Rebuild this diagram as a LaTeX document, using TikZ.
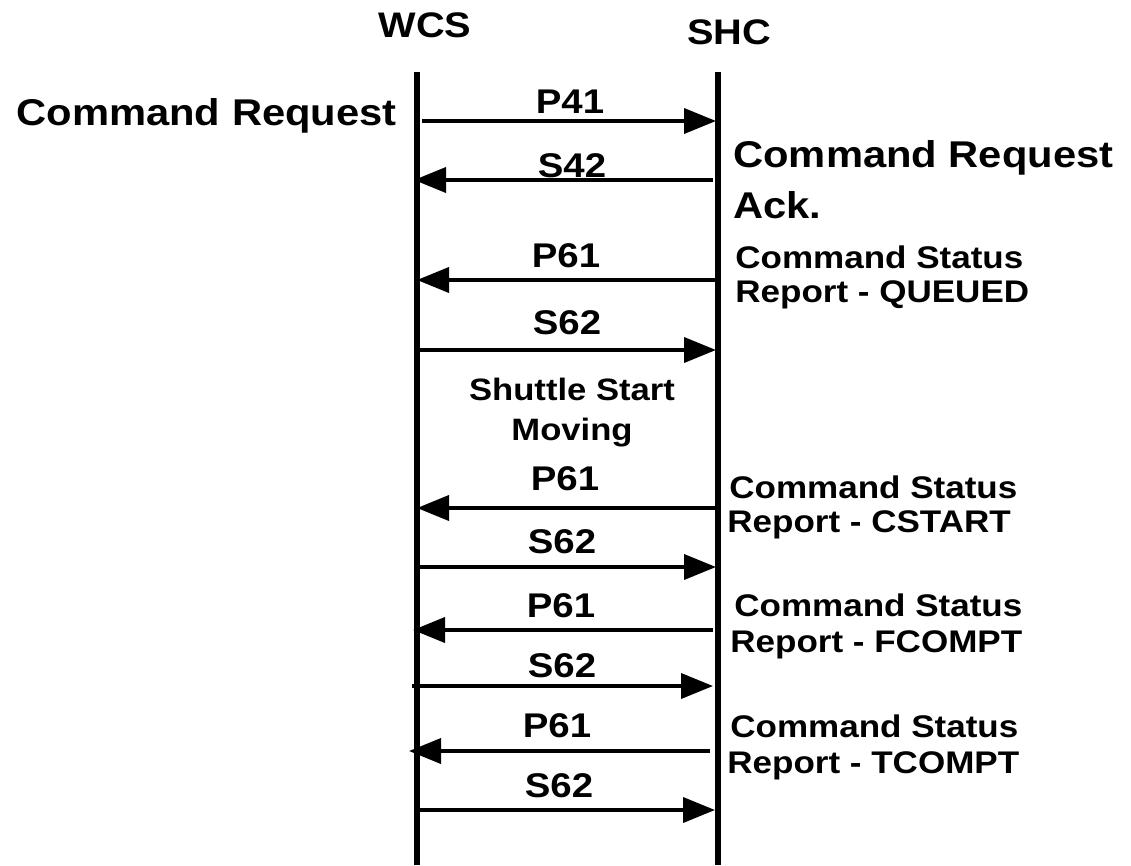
\documentclass[tikz,border=0pt]{standalone}
\usepackage{fontspec}
\setmainfont{Liberation Sans}[FakeStretch=1.12]
\usetikzlibrary{arrows.meta}
\begin{document}
\begin{tikzpicture}[x=0.02cm,y=-0.02cm,
  lifeline/.style={line width=0.12cm},
  msg/.style={line width=0.075cm,-{Triangle[length=0.64cm,width=0.5cm]}},
  hdr/.style={font=\bfseries\fontsize{20.2}{24}\selectfont, inner sep=0pt, anchor=base},
  lbl/.style={font=\bfseries\fontsize{19.5}{23}\selectfont, inner sep=0pt, anchor=base},
  big/.style={font=\bfseries\fontsize{21.2}{25}\selectfont, inner sep=0pt, anchor=base west},
  note/.style={font=\bfseries\fontsize{17.8}{20}\selectfont, inner sep=0pt, anchor=base west},
  mid/.style={font=\bfseries\fontsize{17.6}{20}\selectfont, inner sep=0pt, anchor=base},
]
\useasboundingbox (0,0) rectangle (1131,865);

% headers
\node[hdr] (wcs) at (425,38) {WCS};
\node[hdr] (shc) at (729,45) {SHC};

% lifelines
\coordinate (wtop) at (416.5,72);
\coordinate (wbot) at (416.5,865);
\coordinate (stop) at (717.5,72);
\coordinate (sbot) at (717.5,865);
\draw[lifeline] (wtop) -- (wbot);
\draw[lifeline] (stop) -- (sbot);

% left label
\node[big, anchor=base east] (cmdreq) at (397,125) {Command Request};

% message end points
\coordinate (a1) at (422,121);  \coordinate (b1) at (716,121);
\coordinate (a2) at (414,180);  \coordinate (b2) at (713,180);
\coordinate (a3) at (417,280);  \coordinate (b3) at (716,280);
\coordinate (a4) at (415,350);  \coordinate (b4) at (716,350);
\coordinate (a5) at (417,508);  \coordinate (b5) at (716,508);
\coordinate (a6) at (415,567);  \coordinate (b6) at (716,567);
\coordinate (a7) at (413,630);  \coordinate (b7) at (713,630);
\coordinate (a8) at (412,686);  \coordinate (b8) at (713,686);
\coordinate (a9) at (409,751);  \coordinate (b9) at (710,751);
\coordinate (a10) at (420,810); \coordinate (b10) at (715,810);

\draw[msg] (a1) -- (b1);
\draw[msg] (b2) -- (a2);
\draw[msg] (b3) -- (a3);
\draw[msg] (a4) -- (b4);
\draw[msg] (b5) -- (a5);
\draw[msg] (a6) -- (b6);
\draw[msg] (b7) -- (a7);
\draw[msg] (a8) -- (b8);
\draw[msg] (b9) -- (a9);
\draw[msg] (a10) -- (b10);

% message labels
\node[lbl] (l1) at (570,113) {P41};
\node[lbl] (l2) at (572,177) {S42};
\node[lbl] (l3) at (566,267) {P61};
\node[lbl] (l4) at (567,334) {S62};
\node[lbl] (l5) at (565,490) {P61};
\node[lbl] (l6) at (562,553) {S62};
\node[lbl] (l7) at (561,617) {P61};
\node[lbl] (l8) at (562,677) {S62};
\node[lbl] (l9) at (557,737) {P61};
\node[lbl] (l10) at (559,797) {S62};

% middle note
\node[mid] (ss1) at (572,400) {Shuttle Start};
\node[mid] (ss2) at (572,440) {Moving};

% right labels
\node[big] (r1) at (733,167) {Command Request};
\node[big] (r2) at (733,218) {Ack.};
\node[note] (q1) at (735,268) {Command Status};
\node[note] (q2) at (735,302) {Report - QUEUED};
\node[note] (c1) at (729,498) {Command Status};
\node[note] (c2) at (727,532) {Report - CSTART};
\node[note] (f1) at (734,616) {Command Status};
\node[note] (f2) at (730,652) {Report - FCOMPT};
\node[note] (t1) at (730,737) {Command Status};
\node[note] (t2) at (727,773) {Report - TCOMPT};
\end{tikzpicture}
\end{document}
